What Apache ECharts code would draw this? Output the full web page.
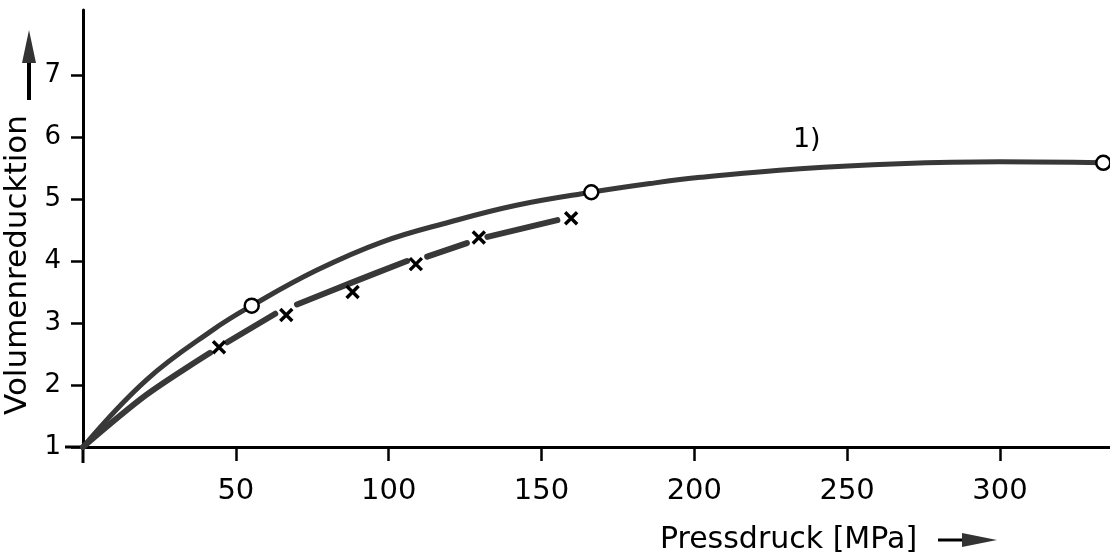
<!DOCTYPE html>
<html>
<head>
<meta charset="utf-8">
<script src="https://cdn.jsdelivr.net/npm/echarts@6/dist/echarts.min.js"></script>
<style>
html,body{margin:0;padding:0;background:#fff;}
#chart{width:1110px;height:558px;}
</style>
</head>
<body>
<div id="chart"></div>
<script>
// ---- data ----
const xTicks = [50, 100, 150, 200, 250, 300];
const yTicks = [1, 2, 3, 4, 5, 6, 7];
const xName = 'Pressdruck [MPa]';
const yName = 'Volumenreducktion';

// curve 1) (solid)
const upperCurve = [
  [0, 1], [20.7, 2.08], [42.5, 2.89], [55.2, 3.28], [76.4, 3.85],
  [98, 4.31], [120, 4.63], [141.8, 4.90], [166.3, 5.11], [185.5, 5.25],
  [202, 5.35], [234.6, 5.49], [267, 5.57], [300, 5.60], [333.8, 5.585]
];
const upperPoints = [[55.2, 3.28], [166.3, 5.11], [333.8, 5.585]];

// dashed curve, each dash
const lowerDashes = [
  [[0, 1], [20.7, 1.84], [41.6, 2.52]],
  [[47.2, 2.69], [62.9, 3.15]],
  [[70, 3.30], [87.3, 3.64], [106, 4.0]],
  [[112.6, 4.07], [125.6, 4.29]],
  [[132.3, 4.39], [155.2, 4.66]]
];
const lowerPoints = [[44.5, 2.61], [66.5, 3.13], [88.2, 3.50], [108.9, 3.95], [129.5, 4.38], [159.7, 4.69]];

const curveLabel = [[236.8, 5.95, '1)']];

// ---- chart ----
const INK = '#000';
const CURVE = '#383838';
const FONT = 'DejaVu Sans';

const chart = echarts.init(document.getElementById('chart'), null, {renderer: 'canvas'});

const series = [];
series.push({
  type: 'line', data: upperCurve, smooth: 0.4, showSymbol: false, silent: true,
  lineStyle: {color: CURVE, width: 5, cap: 'round'}, z: 3
});
lowerDashes.forEach(seg => {
  series.push({
    type: 'line', data: seg, smooth: seg.length > 2 ? 0.3 : false, showSymbol: false, silent: true,
    lineStyle: {color: CURVE, width: 6, cap: 'round'}, z: 3
  });
});
series.push({
  type: 'scatter', data: upperPoints, symbol: 'circle', symbolSize: 14,
  itemStyle: {color: '#fff', borderColor: INK, borderWidth: 2.5, opacity: 1}, z: 5
});
series.push({
  type: 'scatter', data: lowerPoints,
  symbol: 'path://M0,0 L10,10 M10,0 L0,10',
  symbolSize: 12,
  itemStyle: {color: 'none', borderColor: INK, borderWidth: 3.4, opacity: 1}, z: 5
});
series.push({
  type: 'scatter', data: curveLabel, symbolSize: 0, silent: true,
  itemStyle: {opacity: 1},
  label: {show: true, position: 'inside', formatter: p => p.data[2],
          fontFamily: FONT, fontSize: 27, color: INK}
});

chart.setOption({
  backgroundColor: '#fff',
  animation: false,
  grid: {left: 83, right: 0, top: 10, bottom: 111, containLabel: false, outerBoundsMode: 'none'},
  xAxis: {
    type: 'value', min: 0, max: 336,
    axisLine: {show: true, lineStyle: {color: INK, width: 3}},
    axisTick: {show: true, customValues: xTicks, length: 14, inside: false, lineStyle: {color: INK, width: 2.5}},
    axisLabel: {show: true, customValues: xTicks, margin: 30, fontFamily: FONT, fontSize: 29, color: INK},
    splitLine: {show: false},
    name: xName, nameLocation: 'middle', nameGap: 78,
    nameTextStyle: {fontFamily: FONT, fontSize: 30, color: INK, padding: [0, 0, 0, 384]}
  },
  yAxis: {
    type: 'value', min: 1, max: 8.05,
    axisLine: {show: true, lineStyle: {color: INK, width: 3}},
    axisTick: {show: true, customValues: yTicks, length: 12, lineStyle: {color: INK, width: 2.5}},
    axisLabel: {show: true, customValues: yTicks, margin: 22, fontFamily: FONT, fontSize: 26, color: INK},
    splitLine: {show: false},
    name: yName, nameLocation: 'middle', nameGap: 50, nameRotate: 90,
    nameTextStyle: {fontFamily: FONT, fontSize: 31, color: INK, padding: [0, 73, 0, 0]}
  },
  series: series
});

// axis extensions past the origin and the direction arrows
const o = chart.convertToPixel({gridIndex: 0}, [0, 1]);
chart.setOption({
  graphic: [
    {type: 'line', shape: {x1: o[0], y1: o[1], x2: o[0], y2: o[1] + 16}, style: {stroke: INK, lineWidth: 3}},
    {type: 'line', shape: {x1: o[0] - 18, y1: o[1], x2: o[0], y2: o[1]}, style: {stroke: INK, lineWidth: 3}},
    // y arrow
    {type: 'line', shape: {x1: 29, y1: 100, x2: 29, y2: 58}, style: {stroke: INK, lineWidth: 4}},
    {type: 'polygon', shape: {points: [[29, 30], [22, 63], [36, 63]]}, style: {fill: '#333'}},
    // x arrow
    {type: 'line', shape: {x1: 938, y1: 540, x2: 968, y2: 540}, style: {stroke: INK, lineWidth: 3}},
    {type: 'polygon', shape: {points: [[962, 533], [997, 540], [962, 547]]}, style: {fill: '#333'}}
  ]
});
</script>
</body>
</html>
